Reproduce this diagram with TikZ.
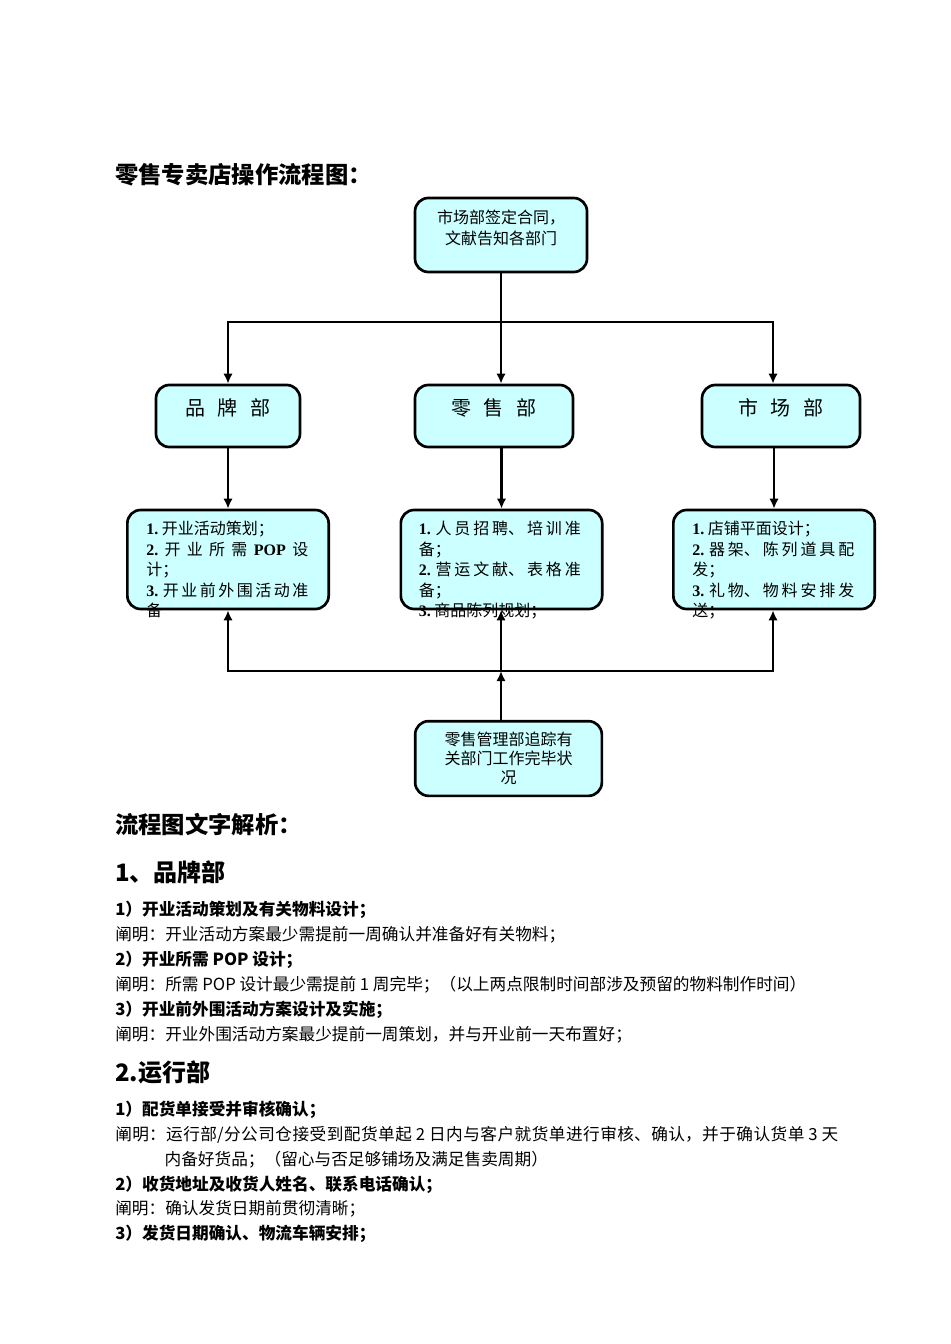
\documentclass[tikz,border=0pt]{standalone}
\usepackage{fontspec}
\setmainfont{Noto Sans CJK SC}
\newfontfamily\serifnum{Liberation Serif}
\usepackage{xcolor}
\usetikzlibrary{shapes,arrows.meta,positioning,calc}
\XeTeXlinebreaklocale "zh"
\XeTeXlinebreakskip=0pt plus 3pt

\definecolor{boxcyan}{HTML}{CCFFFF}
\newcommand{\itemno}[1]{{\serifnum\bfseries #1.}~}
\newcommand{\popword}{{\serifnum\bfseries POP}}
\newcommand{\gapchar}{\hspace{0.65em}}

\tikzset{
  flowbox/.style={draw, line width=2pt, fill=boxcyan, rounded corners=10pt},
  headbox/.style={flowbox, minimum width=129pt, minimum height=55.5pt},
  headtext/.style={inner sep=0pt, align=center, font=\fontsize{12}{15.75}\selectfont},
  deptbox/.style={flowbox, inner sep=0pt, text height=22.5pt, text depth=24pt,
    font=\fontsize{15}{18}\selectfont},
  listbox/.style={flowbox, minimum width=151pt, minimum height=74.25pt},
  listtext/.style={anchor=base west, inner sep=0pt, text width=121.5pt, align=justify,
    font=\fontsize{12}{15.4}\selectfont},
  trackbox/.style={flowbox, minimum width=140pt, minimum height=56pt, align=center,
    font=\fontsize{12}{14.25}\selectfont},
  link/.style={line width=2.2pt, -{Latex[length=7.5pt,width=7pt]}},
  bodytext/.style={anchor=base west, inner sep=0pt, font=\fontsize{12.5}{18.75}\selectfont},
  subhead/.style={bodytext, font=\fontsize{12.5}{18.75}\selectfont\bfseries},
  secthead/.style={bodytext, font=\fontsize{18}{22}\selectfont\bfseries},
  pagehead/.style={bodytext, font=\fontsize{17.5}{20}\selectfont\bfseries}
}

\begin{document}
\begin{tikzpicture}[x=0.75pt, y=-0.75pt]
    % 页面
    \fill[white] (0,0) rectangle (950,1344);
    \useasboundingbox (0,0) rectangle (950,1344);

    \node[pagehead] (title) at (115,184) {零售专卖店操作流程图：};

    % 流程框
    \node[headbox] (contract) at (501,235) {};
    \node[headtext] (contracttext) at (501,228) {市场部签定合同，\\文献告知各部门};

    \node[deptbox, minimum width=108pt] (brand) at (228,416) {品\gapchar 牌\gapchar 部};
    \node[deptbox, minimum width=118.5pt] (retail) at (494,416) {零\gapchar 售\gapchar 部};
    \node[deptbox, minimum width=118.5pt] (market) at (781,416) {市\gapchar 场\gapchar 部};

    \node[listbox] (brandlist) at (228,559.5) {};
    \node[listbox] (retaillist) at (501.5,559.5) {};
    \node[listbox] (marketlist) at (774,559.5) {};

    \node[trackbox] (track) at (508.5,758.5) {零售管理部追踪有\\关部门工作完毕状\\况};

    % 框内条目
    \node[listtext] (brandtext) at ($(brandlist.north west)+(20,26)$)
      {\itemno{1}开业活动策划；\par
       \itemno{2}开业所需 \popword{} 设\linebreak 计；\par
       \itemno{3}开业前外围活动准\linebreak 备\par};
    \node[listtext] (retailtext) at ($(retaillist.north west)+(19,26)$)
      {\itemno{1}人员招聘、培训准\linebreak 备；\par
       \itemno{2}营运文献、表格准\linebreak 备；\par
       \itemno{3}商品陈列规划；\par};
    \node[listtext] (markettext) at ($(marketlist.north west)+(20,26)$)
      {\itemno{1}店铺平面设计；\par
       \itemno{2}器架、陈列道具配\linebreak 发；\par
       \itemno{3}礼物、物料安排发\linebreak 送；\par};

    % 分发连线
    \coordinate (splitleft) at (228,322);
    \coordinate (splittop) at (501,322);
    \coordinate (splitright) at (773,322);
    \draw[link] (contract) -- (splittop |- retail.north);
    \draw[link] (splittop) -- (splitleft) -- (brand);
    \draw[link] (splittop) -- (splitright) -- (splitright |- market.north);

    \draw[link] (brand) -- (brandlist);
    \draw[link] (retaillist.north |- retail.south) -- (retaillist.north);
    \draw[link] (marketlist.north |- market.south) -- (marketlist.north);

    % 追踪连线
    \coordinate (joinleft) at (228,671);
    \coordinate (joinmid) at (501,671);
    \coordinate (joinright) at (773,671);
    \draw[link] (joinmid) -- (joinleft) -- (brandlist);
    \draw[link] (joinmid) -- (joinright) -- (joinright |- marketlist.south);
    \draw[link] (joinmid) -- (joinmid |- retaillist.south);
    \draw[link] (track.north -| joinmid) -- (joinmid);

    % 文字解析
    \node[pagehead] (analysis) at (115,833) {流程图文字解析：};

    \node[secthead] (brandsec) at (115,881) {1、品牌部};
    \node[subhead] (brandone) at (115,915) {1）开业活动策划及有关物料设计；};
    \node[bodytext] (brandonenote) at (115,940) {阐明：开业活动方案最少需提前一周确认并准备好有关物料；};
    \node[subhead] (brandtwo) at (115,965) {2）开业所需 POP 设计；};
    \node[bodytext] (brandtwonote) at (115,990) {阐明：所需 POP 设计最少需提前 1 周完毕；（以上两点限制时间部涉及预留的物料制作时间）};
    \node[subhead] (brandthree) at (115,1015) {3）开业前外围活动方案设计及实施；};
    \node[bodytext] (brandthreenote) at (115,1040) {阐明：开业外围活动方案最少提前一周策划，并与开业前一天布置好；};

    \node[secthead] (opsec) at (115,1081) {2.运行部};
    \node[subhead] (opone) at (115,1115) {1）配货单接受并审核确认；};
    \node[bodytext, text width=542.25pt, align=justify] (oponenote) at (115,1140)
      {\hangindent=37pt\hangafter=1 阐明：运行部/分公司仓接受到配货单起 2 日内与客户就货单进行审核、确认，并于确认货单 3 天\linebreak 内备好货品；（留心与否足够铺场及满足售卖周期）\par};
    \node[subhead] (optwo) at (115,1190) {2）收货地址及收货人姓名、联系电话确认；};
    \node[bodytext] (optwonote) at (115,1214) {阐明：确认发货日期前贯彻清晰；};
    \node[subhead] (opthree) at (115,1239) {3）发货日期确认、物流车辆安排；};
\end{tikzpicture}
\end{document}
